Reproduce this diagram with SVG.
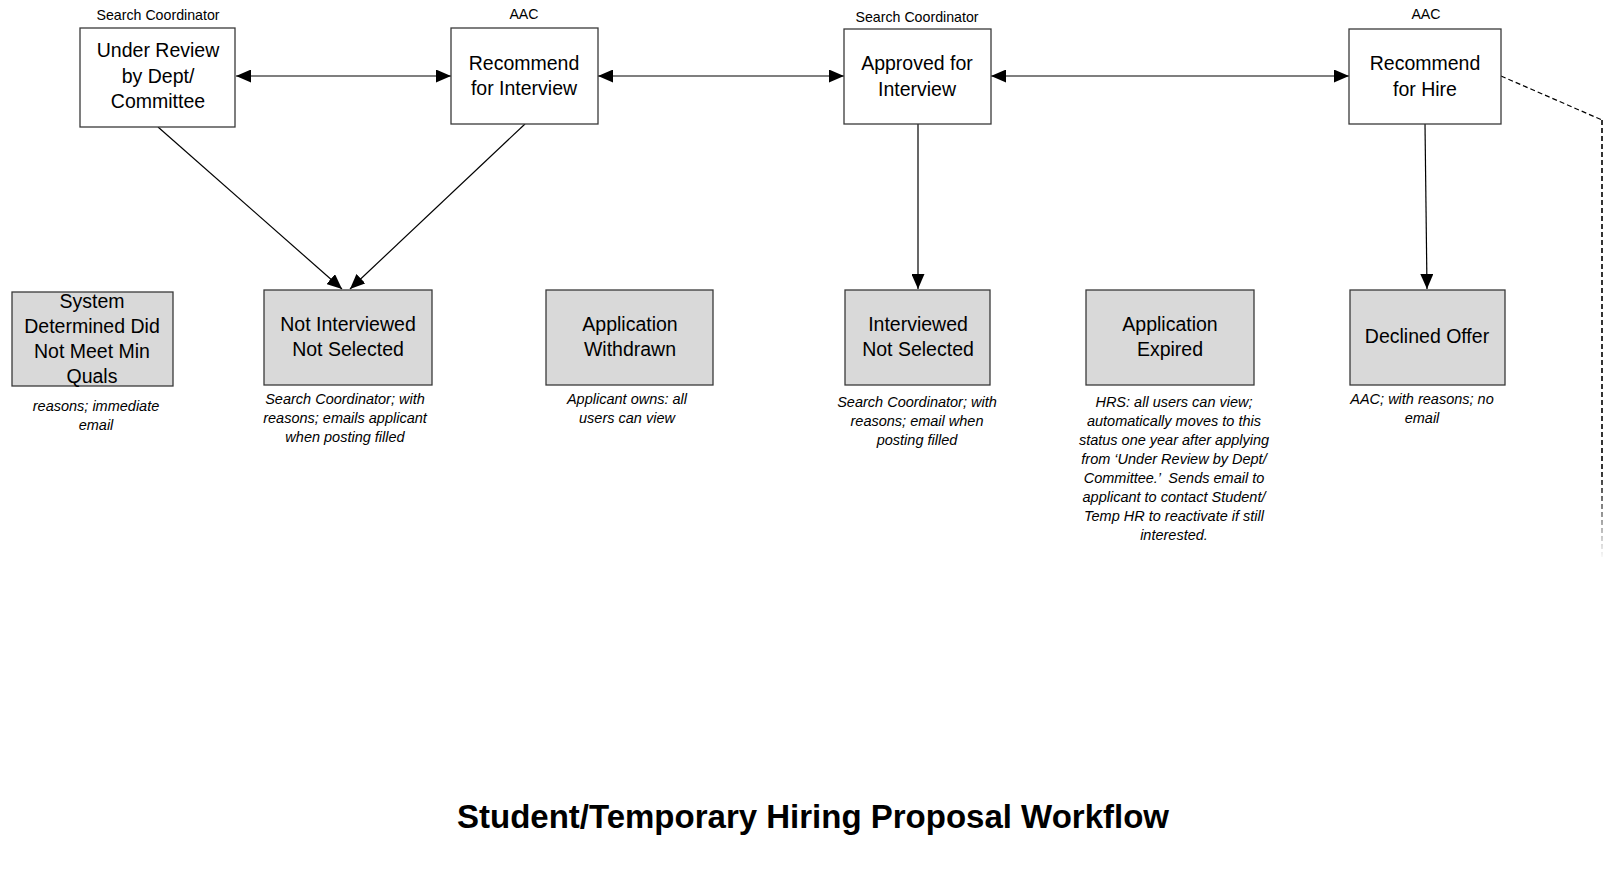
<svg xmlns="http://www.w3.org/2000/svg" width="1605" height="875" viewBox="0 0 1605 875">
<style>
.box{fill:#ffffff;stroke:#3a3a3a;stroke-width:1.3}
.end{fill:#d9d9d9;stroke:#3a3a3a;stroke-width:1.3}
.t{font-family:"Liberation Sans",Arial,sans-serif;font-size:19.5px;fill:#000;text-anchor:middle}
.r{font-family:"Liberation Sans",Arial,sans-serif;font-size:14.2px;fill:#000;text-anchor:middle}
.n{font-family:"Liberation Sans",Arial,sans-serif;font-size:14.5px;font-style:italic;fill:#000;text-anchor:middle;white-space:pre}
.title{font-family:"Liberation Sans",Arial,sans-serif;font-size:33px;font-weight:bold;fill:#000;text-anchor:middle}
.c{stroke:#000;stroke-width:1.2;fill:none}
.d{stroke:#000;stroke-width:1.2;fill:none;stroke-dasharray:5,3}
</style>
<defs>
<marker id="ah" markerUnits="userSpaceOnUse" markerWidth="15" markerHeight="13" refX="15" refY="6.5" orient="auto-start-reverse" viewBox="0 0 15 13">
<path d="M0,0 L15,6.5 L0,13 z" fill="#000"/>
</marker>
<linearGradient id="fade" x1="0" y1="120" x2="0" y2="560" gradientUnits="userSpaceOnUse">
<stop offset="0" stop-color="#000"/>
<stop offset="0.8" stop-color="#000"/>
<stop offset="1" stop-color="#000" stop-opacity="0"/>
</linearGradient>
</defs>
<rect width="1605" height="875" fill="#ffffff"/>

<g id="connectors">
<line class="c" x1="236" y1="76" x2="451" y2="76" marker-start="url(#ah)" marker-end="url(#ah)"/>
<line class="c" x1="598" y1="76" x2="844" y2="76" marker-start="url(#ah)" marker-end="url(#ah)"/>
<line class="c" x1="991" y1="76" x2="1349" y2="76" marker-start="url(#ah)" marker-end="url(#ah)"/>
<line class="c" x1="158" y1="127" x2="342" y2="289" marker-end="url(#ah)"/>
<line class="c" x1="525" y1="124" x2="350" y2="289" marker-end="url(#ah)"/>
<line class="c" x1="918" y1="124" x2="918" y2="289" marker-end="url(#ah)"/>
<line class="c" x1="1425" y1="124" x2="1427" y2="289" marker-end="url(#ah)"/>
<line class="d" x1="1501" y1="76" x2="1602" y2="120"/>
<line x1="1602" y1="120" x2="1602" y2="560" stroke="url(#fade)" stroke-width="1.6" stroke-dasharray="5,3"/>
</g>

<g id="under-review">
<text class="r" x="158" y="20">Search Coordinator</text>
<rect class="box" x="80" y="28" width="155" height="99"/>
<text class="t" x="158" y="57">Under Review</text>
<text class="t" x="158" y="83">by Dept/</text>
<text class="t" x="158" y="108">Committee</text>
</g>

<g id="recommend-interview">
<text class="r" x="524" y="19">AAC</text>
<rect class="box" x="451" y="28" width="147" height="96"/>
<text class="t" x="524" y="70">Recommend</text>
<text class="t" x="524" y="95">for Interview</text>
</g>

<g id="approved-interview">
<text class="r" x="917" y="22">Search Coordinator</text>
<rect class="box" x="844" y="29" width="147" height="95"/>
<text class="t" x="917" y="70">Approved for</text>
<text class="t" x="917" y="96">Interview</text>
</g>

<g id="recommend-hire">
<text class="r" x="1426" y="19">AAC</text>
<rect class="box" x="1349" y="29" width="152" height="95"/>
<text class="t" x="1425" y="70">Recommend</text>
<text class="t" x="1425" y="96">for Hire</text>
</g>

<g id="system-determined">
<rect class="end" x="12" y="292" width="161" height="94"/>
<text class="t" x="92" y="308">System</text>
<text class="t" x="92" y="333">Determined Did</text>
<text class="t" x="92" y="358">Not Meet Min</text>
<text class="t" x="92" y="383">Quals</text>
<text class="n" x="96" y="411">reasons; immediate</text>
<text class="n" x="96" y="430">email</text>
</g>

<g id="not-interviewed">
<rect class="end" x="264" y="290" width="168" height="95"/>
<text class="t" x="348" y="331">Not Interviewed</text>
<text class="t" x="348" y="356">Not Selected</text>
<text class="n" x="345" y="404">Search Coordinator; with</text>
<text class="n" x="345" y="423">reasons; emails applicant</text>
<text class="n" x="345" y="442">when posting filled</text>
</g>

<g id="application-withdrawn">
<rect class="end" x="546" y="290" width="167" height="95"/>
<text class="t" x="630" y="331">Application</text>
<text class="t" x="630" y="356">Withdrawn</text>
<text class="n" x="627" y="404">Applicant owns: all</text>
<text class="n" x="627" y="423">users can view</text>
</g>

<g id="interviewed-not-selected">
<rect class="end" x="845" y="290" width="145" height="95"/>
<text class="t" x="918" y="331">Interviewed</text>
<text class="t" x="918" y="356">Not Selected</text>
<text class="n" x="917" y="407">Search Coordinator; with</text>
<text class="n" x="917" y="426">reasons; email when</text>
<text class="n" x="917" y="445">posting filled</text>
</g>

<g id="application-expired">
<rect class="end" x="1086" y="290" width="168" height="95"/>
<text class="t" x="1170" y="331">Application</text>
<text class="t" x="1170" y="356">Expired</text>
<text class="n" x="1174" y="407">HRS: all users can view;</text>
<text class="n" x="1174" y="426">automatically moves to this</text>
<text class="n" x="1174" y="445">status one year after applying</text>
<text class="n" x="1174" y="464">from ‘Under Review by Dept/</text>
<text class="n" x="1174" y="483">Committee.’  Sends email to</text>
<text class="n" x="1174" y="502">applicant to contact Student/</text>
<text class="n" x="1174" y="521">Temp HR to reactivate if still</text>
<text class="n" x="1174" y="540">interested.</text>
</g>

<g id="declined-offer">
<rect class="end" x="1350" y="290" width="155" height="95"/>
<text class="t" x="1427" y="343">Declined Offer</text>
<text class="n" x="1422" y="404">AAC; with reasons; no</text>
<text class="n" x="1422" y="423">email</text>
</g>

<g id="title">
<text class="title" x="813" y="828">Student/Temporary Hiring Proposal Workflow</text>
</g>
</svg>
